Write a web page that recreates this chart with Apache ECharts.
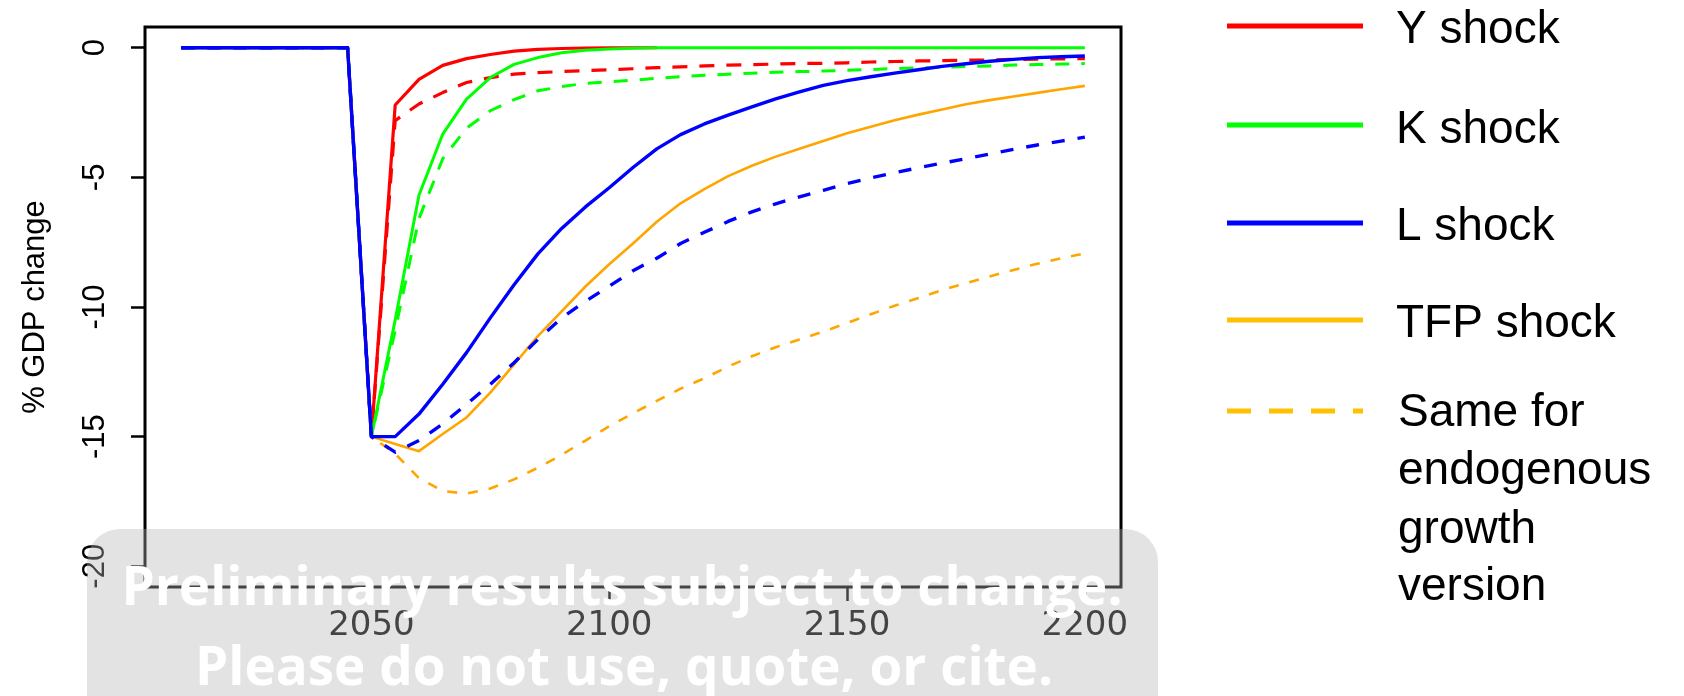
<!DOCTYPE html>
<html>
<head>
<meta charset="utf-8">
<script src="https://cdn.jsdelivr.net/npm/echarts@6/dist/echarts.min.js"></script>
<style>
html,body{margin:0;padding:0;background:#fff;}
#chart{width:1684px;height:696px;}
</style>
</head>
<body>
<div id="chart"></div>
<script>
// ---- data (percent GDP change) ----
const years = [2010,2015,2020,2025,2030,2035,2040,2045,2050,2055,2060,2065,2070,2075,2080,2085,2090,2095,
  2100,2105,2110,2115,2120,2125,2130,2135,2140,2145,2150,2155,2160,2165,2170,2175,2180,2185,2190,2195,2200];
const pre = [0,0,0,0,0,0,0,0];
const yShock = pre.concat([-15,-2.21,-1.22,-0.68,-0.42,-0.26,-0.13,-0.06,-0.03,-0.01,0,0,0,
  null,null,null,null,null,null,null,null,null,null,null,null,null,null,null,null,null,null]);
const yShockEndo = pre.concat([-15,-2.81,-2.17,-1.73,-1.34,-1.15,-1.02,-0.96,-0.92,-0.88,-0.85,-0.81,-0.77,-0.74,-0.70,-0.67,
  -0.65,-0.63,-0.61,-0.60,-0.58,-0.55,-0.53,-0.51,-0.50,-0.48,-0.47,-0.45,-0.44,-0.43,-0.42]);
const kShock = pre.concat([-15,-10.5,-5.69,-3.33,-1.98,-1.15,-0.64,-0.38,-0.19,-0.1,-0.05,-0.02,0,
  0,0,0,0,0,0,0,0,0,0,0,0,0,0,0,0,0,0]);
const kShockEndo = pre.concat([-15,-10.9,-6.59,-4.28,-3.1,-2.43,-2.0,-1.66,-1.5,-1.37,-1.32,-1.25,-1.18,-1.12,-1.06,-1.02,
  -0.98,-0.95,-0.92,-0.9,-0.87,-0.84,-0.8,-0.78,-0.75,-0.72,-0.7,-0.67,-0.65,-0.63,-0.61]);
const lShock = pre.concat([-15,-15,-14.13,-12.98,-11.76,-10.42,-9.14,-7.95,-6.97,-6.14,-5.4,-4.62,-3.9,-3.35,-2.94,-2.6,
  -2.28,-1.97,-1.7,-1.45,-1.27,-1.12,-0.98,-0.85,-0.72,-0.62,-0.52,-0.45,-0.38,-0.35,-0.32]);
const lShockEndo = pre.concat([-15,-15.6,-15.15,-14.51,-13.75,-12.98,-12.15,-11.25,-10.42,-9.78,-9.2,-8.6,-8.12,-7.55,-7.12,-6.7,
  -6.33,-6.02,-5.75,-5.5,-5.24,-5.02,-4.82,-4.63,-4.45,-4.28,-4.1,-3.92,-3.75,-3.6,-3.45]);
const tfpShock = pre.concat([-15,-15.28,-15.56,-14.9,-14.26,-13.3,-12.21,-11.12,-10.17,-9.21,-8.35,-7.55,-6.71,-6.0,-5.45,-4.95,
  -4.55,-4.2,-3.9,-3.6,-3.3,-3.05,-2.8,-2.58,-2.38,-2.18,-2.02,-1.88,-1.74,-1.6,-1.47]);
const tfpShockEndo = pre.concat([-15,-15.66,-16.6,-17.1,-17.2,-17.0,-16.65,-16.2,-15.7,-15.15,-14.6,-14.1,-13.62,-13.15,-12.75,-12.3,
  -11.9,-11.55,-11.25,-10.95,-10.62,-10.28,-9.95,-9.65,-9.35,-9.08,-8.82,-8.57,-8.33,-8.12,-7.93]);

const xTicks = [2050, 2100, 2150, 2200];
const yTicks = [-20, -15, -10, -5, 0];
const yAxisTitle = '% GDP change';
const legendLabels = ['Y shock', 'K shock', 'L shock', 'TFP shock'];
const legendDashedLines = ['Same for', 'endogenous', 'growth', 'version'];
const watermarkLines = ['Preliminary results subject to change.', 'Please do not use, quote, or cite.'];

const pairs = arr => years.map((y, i) => [y, arr[i]]);

function line(name, data, color, width, dash) {
  return {
    name, type: 'line', data: pairs(data), symbol: 'none', smooth: false,
    connectNulls: false, animation: false,
    lineStyle: { color, width, type: dash || 'solid', cap: 'butt', join: 'round' }
  };
}

const chart = echarts.init(document.getElementById('chart'), null, { renderer: 'canvas' });

const legendColors = ['#ff0000', '#00ff00', '#0000ff', '#ffc000'];
const legendY = [26, 125, 223, 320];
const legendBase = [46, 146, 243, 340];
const graphics = [];
legendLabels.forEach((t, i) => {
  graphics.push({ type: 'line', shape: { x1: 1227, y1: legendY[i], x2: 1363, y2: legendY[i] },
    style: { stroke: legendColors[i], lineWidth: 5 }, z: 50 });
  graphics.push({ type: 'text', x: 1396, y: legendBase[i] - 16,
    style: { text: t, font: '46px "Liberation Sans", Arial, sans-serif', fill: '#000', verticalAlign: 'middle', align: 'left' }, z: 50 });
});
graphics.push({ type: 'line', shape: { x1: 1227, y1: 411, x2: 1363, y2: 411 },
  style: { stroke: '#ffc000', lineWidth: 5, lineDash: [24, 18] }, z: 50 });
const dashedBase = [429, 487, 546, 603];
legendDashedLines.forEach((t, i) => {
  graphics.push({ type: 'text', x: 1398, y: dashedBase[i] - 16,
    style: { text: t, font: '46px "Liberation Sans", Arial, sans-serif', fill: '#000', verticalAlign: 'middle', align: 'left' }, z: 50 });
});
// watermark
graphics.push({ type: 'rect', shape: { x: 87, y: 529, width: 1071, height: 220, r: 33 },
  style: { fill: 'rgba(181,181,181,0.376)' }, z: 100 });
graphics.push({ type: 'text', x: 622, y: 590,
  style: { text: watermarkLines[0], font: 'bold 53px "Open Sans", sans-serif', fill: '#fff', align: 'center', verticalAlign: 'middle' }, z: 101 });
graphics.push({ type: 'text', x: 624, y: 670,
  style: { text: watermarkLines[1], font: 'bold 53px "Open Sans", sans-serif', fill: '#fff', align: 'center', verticalAlign: 'middle' }, z: 101 });

chart.setOption({
  animation: false,
  backgroundColor: '#fff',
  grid: { left: 145, right: 563, top: 27, bottom: 109, show: true, borderColor: '#000', borderWidth: 3, backgroundColor: 'transparent' },
  xAxis: {
    type: 'value', min: 2002.4, max: 2207.6, position: 'bottom',
    axisLine: { show: false, onZero: false },
    splitLine: { show: false },
    axisTick: { show: true, inside: false, length: 14, customValues: xTicks, lineStyle: { color: '#000', width: 2.5 } },
    axisLabel: { show: true, customValues: xTicks, margin: 22, formatter: v => String(v),
      fontFamily: '"DejaVu Sans", sans-serif', fontSize: 34, color: '#000' }
  },
  yAxis: {
    type: 'value', min: -20.8, max: 0.8, position: 'left',
    name: yAxisTitle, nameLocation: 'middle', nameGap: 94, nameRotate: 90,
    nameTextStyle: { fontFamily: '"Liberation Sans", Arial, sans-serif', fontSize: 31, color: '#000' },
    axisLine: { show: false, onZero: false },
    splitLine: { show: false },
    axisTick: { show: true, inside: false, length: 14, customValues: yTicks, lineStyle: { color: '#000', width: 2.5 } },
    axisLabel: { show: true, customValues: yTicks, rotate: 90, margin: 34, formatter: v => String(v),
      fontFamily: '"Liberation Sans", Arial, sans-serif', fontSize: 31, color: '#000' }
  },
  series: [
    line('TFP shock', tfpShock, '#ffa500', 2.6),
    line('TFP shock (endogenous)', tfpShockEndo, '#ffa500', 2.6, [10, 11]),
    line('Y shock', yShock, '#ff0000', 3.2),
    line('Y shock (endogenous)', yShockEndo, '#ff0000', 3.2, [15, 12]),
    line('K shock', kShock, '#00ff00', 3),
    line('K shock (endogenous)', kShockEndo, '#00ff00', 3, [14, 12]),
    line('L shock', lShock, '#0000ff', 3.4),
    line('L shock (endogenous)', lShockEndo, '#0000ff', 3.4, [13, 13])
  ],
  graphic: graphics
});
</script>
</body>
</html>
